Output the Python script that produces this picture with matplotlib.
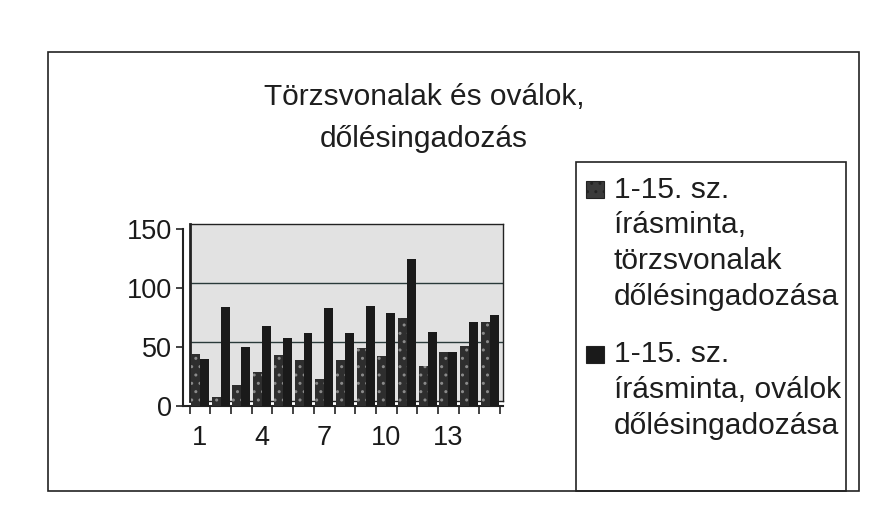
import matplotlib
matplotlib.use("Agg")
import matplotlib.pyplot as plt
from matplotlib.patches import Rectangle
import numpy as np

plt.rcParams['font.family'] = ['Liberation Sans', 'DejaVu Sans']
plt.rcParams['hatch.linewidth'] = 1.0

categories = list(range(1, 16))
tick_labels = ['1', '4', '7', '10', '13']
tick_positions = [1, 4, 7, 10, 13]
series_names = ['1-15. sz.\nírásminta,\ntörzsvonalak\ndőlésingadozása',
                '1-15. sz.\nírásminta, oválok\ndőlésingadozása']
torzsvonalak = [44, 8, 18, 29, 43, 39, 23, 39, 49, 42, 75, 34, 46, 51, 71]
ovalok = [40, 84, 50, 68, 58, 62, 83, 62, 85, 79, 125, 63, 46, 71, 77]
title = 'Törzsvonalak és oválok,\ndőlésingadozás'

W, H = 879, 531
fig = plt.figure(figsize=(W / 100, H / 100), dpi=100)
fig.patch.set_facecolor('white')

def fx(px):
    return px / W

def fy(py):
    return 1 - py / H

# outer frame
fig.patches.append(Rectangle((fx(48), fy(491)), fx(859) - fx(48), fy(52) - fy(491),
                             transform=fig.transFigure, fill=False, ec='#222222', lw=1.2))
# legend frame
fig.patches.append(Rectangle((fx(576), fy(491)), fx(846) - fx(576), fy(162) - fy(491),
                             transform=fig.transFigure, fill=False, ec='#222222', lw=1.2))

# back wall axes (3D offset)
wl, wr, wb, wt = 190, 503, 401, 224
axw = fig.add_axes([fx(wl), fy(wb), fx(wr) - fx(wl), fy(wt) - fy(wb)])
axw.set_facecolor('#e2e2e2')
axw.set_ylim(0, 150)
axw.set_xlim(0, 1)
axw.set_yticks([50, 100])
axw.yaxis.grid(True, color='#2a3a3a', lw=1.0)
axw.tick_params(left=False, bottom=False, labelleft=False, labelbottom=False)
for s in axw.spines.values():
    s.set_color('#222222')
    s.set_linewidth(1.0)
axw.spines['left'].set_linewidth(2.0)

# main axes
al, ar, ab, at = 183, 503, 406, 229
ax = fig.add_axes([fx(al), fy(ab), fx(ar) - fx(al), fy(at) - fy(ab)])
ax.set_facecolor('none')
ppu = 20.7
x0 = 1 - (200 - al) / ppu
ax.set_xlim(x0, x0 + (ar - al) / ppu)
ax.set_ylim(0, 150)

x = np.array(categories, dtype=float)
bw = 0.43
ax.bar(x - bw / 2, torzsvonalak, width=bw, color='#2e2e2e', edgecolor='#8a8a8a',
       linewidth=0, hatch='..', zorder=3)
ax.bar(x + bw / 2, ovalok, width=bw, color='#1a1a1a', linewidth=0, zorder=3)

ax.set_yticks([0, 50, 100, 150])
ax.set_yticklabels(['0', '50', '100', '150'], fontsize=19.5, color='#1a1a1a')
ax.tick_params(axis='y', length=5, width=1.2, pad=3, color='#222222')
ax.set_xticks(tick_positions)
ax.set_xticklabels(tick_labels, fontsize=19.5, color='#1a1a1a')
ax.set_xticks([c + 0.5 for c in [0] + categories], minor=True)
ax.tick_params(axis='x', which='major', length=0, pad=14)
ax.tick_params(axis='x', which='minor', length=6, width=1.2, color='#222222')
for s in ['top', 'right']:
    ax.spines[s].set_visible(False)
ax.spines['left'].set_linewidth(1.5)
ax.spines['bottom'].set_linewidth(1.5)
ax.spines['left'].set_color('#222222')
ax.spines['bottom'].set_color('#222222')

# title
fig.text(fx(424), fy(83), title, ha='center', va='top', fontsize=21.5,
         color='#1e1e1e', linespacing=1.62)

# legend (manual)
leg_colors = ['#3a3a3a', '#1a1a1a']
leg_base = [197, 362]
for name, col, base in zip(series_names, leg_colors, leg_base):
    fig.patches.append(Rectangle((fx(586), fy(base + 1)), fx(604) - fx(586), fy(181) - fy(198),
                                 transform=fig.transFigure, fc=col, ec='#222222', lw=0.8,
                                 hatch='..' if col == '#3a3a3a' else None))
    fig.text(fx(614), fy(base - 21.5), name, ha='left', va='top', fontsize=21.6,
             color='#1e1e1e', linespacing=1.35)

fig.savefig('out.png', dpi=100, facecolor='white')
